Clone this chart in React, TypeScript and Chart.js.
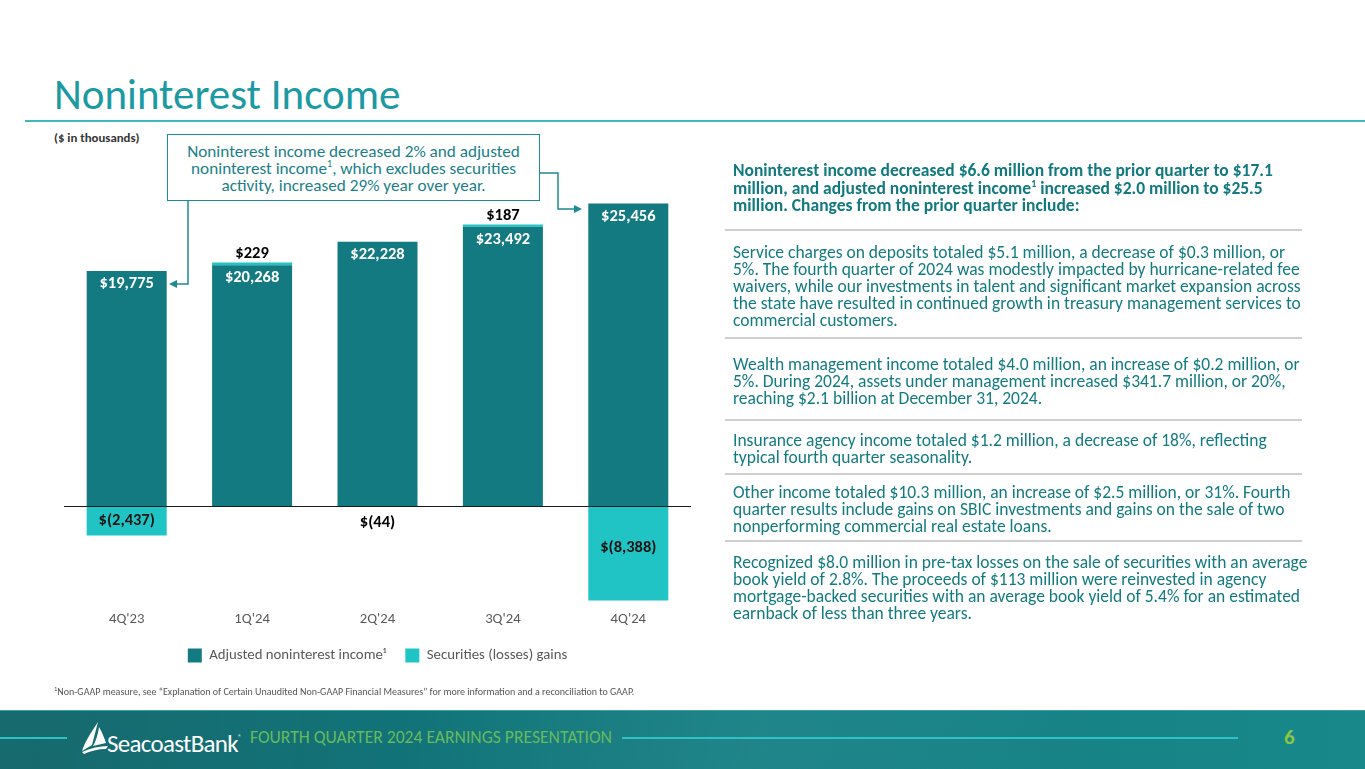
import React, { useEffect, useRef } from "react";
import { Chart, registerables } from "chart.js";

Chart.register(...registerables);

const categories = ["4Q'23", "1Q'24", "2Q'24", "3Q'24", "4Q'24"];
const adjustedIncome = [19775, 20268, 22228, 23492, 25456];
const securitiesGains = [-2437, 229, -44, 187, -8388];
const seriesNames = ["Adjusted noninterest income\u00B9", "Securities (losses) gains"];
const yRange = [-7900, 27000];

const FONT = "Carlito, Lato, 'Open Sans', sans-serif";
const DARK_TEAL = "#137A82";
const BRIGHT_TEAL = "#20C4C5";
const TEXT_TEAL = "#137B80";

const fmt = (v: number) =>
  v < 0 ? `$(${Math.abs(v).toLocaleString("en-US")})` : `$${v.toLocaleString("en-US")}`;

const barLabels = {
  id: "barLabels",
  afterDatasetsDraw(chart: any) {
    const { ctx } = chart;
    ctx.save();
    ctx.font = `bold 16.5px ${FONT}`;
    ctx.textAlign = "center";
    ctx.textBaseline = "middle";
    const m0 = chart.getDatasetMeta(0);
    m0.data.forEach((bar: any, i: number) => {
      ctx.fillStyle = "#FFFFFF";
      ctx.fillText(fmt(adjustedIncome[i]), bar.x, bar.y + 13);
    });
    const m1 = chart.getDatasetMeta(1);
    m1.data.forEach((bar: any, i: number) => {
      const v = securitiesGains[i];
      if (v > 0) {
        ctx.fillStyle = "#000000";
        ctx.fillText(fmt(v), bar.x, bar.y - 9);
      } else {
        const h = bar.y - bar.base;
        const y = h < 20 ? bar.base + 16 : bar.base + Math.min(h / 2, 41);
        ctx.fillStyle = h < 20 ? "#000000" : "#141414";
        ctx.fillText(fmt(v), bar.x, y);
      }
    });
    const y0 = chart.scales.y.getPixelForValue(0);
    ctx.strokeStyle = "#1a1a1a";
    ctx.lineWidth = 1;
    ctx.beginPath();
    ctx.moveTo(chart.chartArea.left - 1, Math.round(y0) + 0.5);
    ctx.lineTo(chart.chartArea.right, Math.round(y0) + 0.5);
    ctx.stroke();
    ctx.restore();
  },
};

function BarChart() {
  const ref = useRef<HTMLCanvasElement | null>(null);
  useEffect(() => {
    if (!ref.current) return;
    const chart = new Chart(ref.current, {
      type: "bar",
      data: {
        labels: categories,
        datasets: [
          {
            label: seriesNames[0],
            data: adjustedIncome,
            backgroundColor: DARK_TEAL,
            borderWidth: 0,
            categoryPercentage: 1,
            barPercentage: 0.638,
          },
          {
            label: seriesNames[1],
            data: securitiesGains,
            backgroundColor: BRIGHT_TEAL,
            borderWidth: 0,
            categoryPercentage: 1,
            barPercentage: 0.638,
          },
        ],
      },
      options: {
        animation: false,
        responsive: true,
        maintainAspectRatio: false,
        layout: { padding: { top: 35, left: 0, right: 0, bottom: 0 } },
        plugins: {
          legend: {
            position: "bottom",
            labels: {
              boxWidth: 14,
              boxHeight: 14,
              padding: 10,
              color: "#595959",
              font: { size: 14.8, family: FONT },
              generateLabels: (c: any) => {
                const items = Chart.defaults.plugins.legend.labels.generateLabels(c);
                return items.map((it: any, i: number) => ({
                  ...it,
                  text: i === 0 ? it.text + "\u2009\u2009\u2009" : it.text,
                }));
              },
            },
          },
          tooltip: { enabled: false },
        },
        scales: {
          x: {
            stacked: true,
            grid: { display: false, drawTicks: false },
            border: { display: false },
            ticks: { color: "#595959", font: { size: 14.7, family: FONT }, padding: 10 },
          },
          y: {
            stacked: true,
            min: yRange[0],
            max: yRange[1],
            display: false,
          },
        },
      },
      plugins: [barLabels],
    });
    return () => chart.destroy();
  }, []);
  return (
    <div style={{ position: "absolute", left: 64, top: 150, width: 627, height: 523 }}>
      <canvas ref={ref} />
    </div>
  );
}

const header = [
  "Noninterest income decreased $6.6 million from the prior quarter to $17.1",
  "million, and adjusted noninterest income|1| increased $2.0 million to $25.5",
  "million. Changes from the prior quarter include:",
];
const paras: { top: number; lines: string[] }[] = [
  {
    top: 243.5,
    lines: [
      "Service charges on deposits totaled $5.1 million, a decrease of $0.3 million, or",
      "5%. The fourth quarter of 2024 was modestly impacted by hurricane-related fee",
      "waivers, while our investments in talent and significant market expansion across",
      "the state have resulted in continued growth in treasury management services to",
      "commercial customers.",
    ],
  },
  {
    top: 355.5,
    lines: [
      "Wealth management income totaled $4.0 million, an increase of $0.2 million, or",
      "5%. During 2024, assets under management increased $341.7 million, or 20%,",
      "reaching $2.1 billion at December 31, 2024.",
    ],
  },
  {
    top: 431.5,
    lines: [
      "Insurance agency income totaled $1.2 million, a decrease of 18%, reflecting",
      "typical fourth quarter seasonality.",
    ],
  },
  {
    top: 483.5,
    lines: [
      "Other income totaled $10.3 million, an increase of $2.5 million, or 31%. Fourth",
      "quarter results include gains on SBIC investments and gains on the sale of two",
      "nonperforming commercial real estate loans.",
    ],
  },
  {
    top: 553.5,
    lines: [
      "Recognized $8.0 million in pre-tax losses on the sale of securities with an average",
      "book yield of 2.8%. The proceeds of $113 million were reinvested in agency",
      "mortgage-backed securities with an average book yield of 5.4% for an estimated",
      "earnback of less than three years.",
    ],
  },
];
const separators = [230, 338, 420, 474, 541];

function renderLine(s: string) {
  const parts = s.split("|");
  return parts.map((p, i) =>
    i % 2 === 1 ? (
      <sup key={i} style={{ fontSize: 10, lineHeight: 0, verticalAlign: 7 }}>
        {p}
      </sup>
    ) : (
      <span key={i}>{p}</span>
    )
  );
}

export default function App() {
  return (
    <div
      style={{
        position: "absolute",
        left: 0,
        top: 0,
        width: 1365,
        height: 769,
        overflow: "hidden",
        background: "#FFFFFF",
        fontFamily: FONT,
      }}
    >
      <div
        style={{
          position: "absolute",
          left: 54,
          top: 71,
          fontSize: 43,
          color: "#1B9AA4",
          lineHeight: "48px",
          whiteSpace: "nowrap",
        }}
      >
        Noninterest Income
      </div>
      <div style={{ position: "absolute", left: 25, top: 120, width: 1340, height: 2, background: "#3DB8BC" }} />
      <div
        style={{
          position: "absolute",
          left: 54,
          top: 131,
          fontSize: 12.8,
          fontWeight: 700,
          color: "#333333",
          whiteSpace: "nowrap",
          lineHeight: "14px",
        }}
      >
        ($ in thousands)
      </div>

      <BarChart />

      {/* callout */}
      <div
        style={{
          position: "absolute",
          left: 167,
          top: 134,
          width: 373,
          height: 67,
          boxSizing: "border-box",
          border: "1.5px solid #1E8A93",
          background: "#FFFFFF",
          color: "#1B7F87",
          fontSize: 17.2,
          lineHeight: "17px",
          textAlign: "center",
          paddingTop: 8,
          whiteSpace: "nowrap",
        }}
      >
        Noninterest income decreased 2% and adjusted
        <br />
        noninterest income
        <sup style={{ fontSize: 10, lineHeight: 0, verticalAlign: 7 }}>1</sup>, which excludes securities
        <br />
        activity, increased 29% year over year.
      </div>
      <svg
        width={1365}
        height={769}
        style={{ position: "absolute", left: 0, top: 0, pointerEvents: "none" }}
      >
        <path d="M188 201 V284 H176" fill="none" stroke="#1E8A93" strokeWidth={1.5} />
        <polygon points="169,284 177,280 177,288" fill="#1E8A93" />
        <path d="M540 173 H558 V209 H575" fill="none" stroke="#1E8A93" strokeWidth={1.5} />
        <polygon points="582,209 574,205 574,213" fill="#1E8A93" />
      </svg>

      {/* right text */}
      <div
        style={{
          position: "absolute",
          left: 733,
          top: 162,
          fontSize: 17.5,
          fontWeight: 700,
          lineHeight: "17.5px",
          color: "#127A7F",
          whiteSpace: "nowrap",
        }}
      >
        {header.map((l, i) => (
          <div key={i}>{renderLine(l)}</div>
        ))}
      </div>
      {separators.map((y, i) => (
        <div
          key={i}
          style={{ position: "absolute", left: 725, top: y - 1, width: 577, height: 1.5, background: "#CFCFCF" }}
        />
      ))}
      {paras.map((p, i) => (
        <div
          key={i}
          style={{
            position: "absolute",
            left: 733,
            top: p.top,
            fontSize: 17.5,
            lineHeight: "17px",
            color: TEXT_TEAL,
            whiteSpace: "nowrap",
          }}
        >
          {p.lines.map((l, j) => (
            <div key={j}>{l}</div>
          ))}
        </div>
      ))}

      {/* footnote */}
      <div
        style={{
          position: "absolute",
          left: 54,
          top: 686,
          fontSize: 10,
          color: "#555555",
          whiteSpace: "nowrap",
          lineHeight: "12px",
        }}
      >
        <sup style={{ fontSize: 6.5, lineHeight: 0 }}>1</sup>Non-GAAP measure, see “Explanation of Certain Unaudited Non-GAAP
        Financial Measures” for more information and a reconciliation to GAAP.
      </div>

      {/* footer */}
      <div
        style={{
          position: "absolute",
          left: 0,
          top: 710,
          width: 1365,
          height: 59,
          background:
            "linear-gradient(100deg, rgba(255,255,255,0.04) 0%, rgba(255,255,255,0) 30%, rgba(255,255,255,0.05) 55%, rgba(0,0,0,0.04) 80%), linear-gradient(90deg, #0E6468 0%, #12767B 35%, #16858A 70%, #1A8E90 100%)",
          borderTop: "1px solid #3E9FA2",
        }}
      />
      <div style={{ position: "absolute", left: 0, top: 737, width: 67, height: 2, background: "#2EC2C4" }} />
      <svg width={30} height={34} style={{ position: "absolute", left: 80, top: 721 }}>
        <path d="M18 1 C13 9 6 18 2 30 L12 24 Z" fill="#FFFFFF" />
        <path d="M19 6 C18 13 16 20 13 25 L26 22 C24 16 22 11 19 6 Z" fill="#FFFFFF" />
        <path d="M2 31 C10 27 20 25 28 25 L26 28 C18 28 10 30 4 33 Z" fill="#FFFFFF" />
      </svg>
      <div
        style={{
          position: "absolute",
          left: 107,
          top: 724,
          fontSize: 25,
          color: "#FFFFFF",
          letterSpacing: -0.7,
          lineHeight: "28px",
          whiteSpace: "nowrap",
        }}
      >
        SeacoastBank<span style={{ fontSize: 7, verticalAlign: 12 }}>®</span>
      </div>
      <div
        style={{
          position: "absolute",
          left: 250,
          top: 727,
          fontSize: 17.6,
          color: "#66BA5E",
          lineHeight: "20px",
          whiteSpace: "nowrap",
        }}
      >
        FOURTH QUARTER 2024 EARNINGS PRESENTATION
      </div>
      <div style={{ position: "absolute", left: 622, top: 737, width: 616, height: 2, background: "#2EC2C4" }} />
      <div
        style={{
          position: "absolute",
          left: 1284,
          top: 723,
          fontSize: 21,
          fontWeight: 700,
          color: "#8CC63F",
          lineHeight: "28px",
        }}
      >
        6
      </div>
    </div>
  );
}
